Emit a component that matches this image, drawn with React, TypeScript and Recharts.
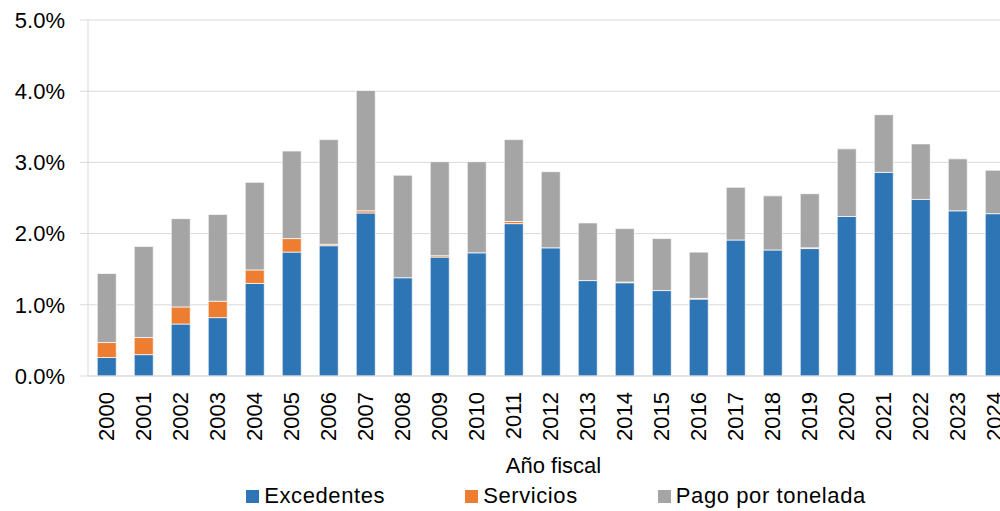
import React from 'react';
import { BarChart, Bar, XAxis, YAxis, CartesianGrid, Legend } from 'recharts';

const years = [
  '2000', '2001', '2002', '2003', '2004', '2005', '2006', '2007', '2008', '2009', '2010', '2011', '2012',
  '2013', '2014', '2015', '2016', '2017', '2018', '2019', '2020', '2021', '2022', '2023', '2024',
];

// values in percent
const excedentes = [
  0.26, 0.3, 0.73, 0.82, 1.3, 1.74, 1.83, 2.29, 1.38, 1.67, 1.73, 2.14, 1.8,
  1.34, 1.31, 1.2, 1.08, 1.91, 1.77, 1.79, 2.24, 2.86, 2.48, 2.32, 2.28,
];
const servicios = [
  0.21, 0.24, 0.24, 0.23, 0.19, 0.19, 0.02, 0.03, 0, 0.02, 0, 0.03, 0,
  0, 0.01, 0, 0.01, 0, 0, 0.01, 0, 0, 0, 0, 0,
];
const pagoPorTonelada = [
  0.97, 1.28, 1.24, 1.22, 1.23, 1.23, 1.47, 1.69, 1.44, 1.32, 1.28, 1.15, 1.07,
  0.81, 0.75, 0.73, 0.65, 0.74, 0.76, 0.76, 0.95, 0.81, 0.78, 0.73, 0.61,
];

const yTicks = [0, 1, 2, 3, 4, 5];

const SERIES = [
  { key: 'excedentes', name: 'Excedentes', color: '#2E75B6' },
  { key: 'servicios', name: 'Servicios', color: '#ED7D31' },
  { key: 'pago', name: 'Pago por tonelada', color: '#A5A5A5' },
];

const data = years.map((year, i) => ({
  year,
  excedentes: excedentes[i],
  servicios: servicios[i],
  pago: pagoPorTonelada[i],
}));

const FONT = '"Liberation Sans", Arial, Helvetica, sans-serif';

const YearTick = (props: any) => {
  const { x, y, payload } = props;
  return (
    <text
      x={x}
      y={y}
      transform={`rotate(-90, ${x}, ${y})`}
      textAnchor="end"
      dy="0.36em"
      fontSize={22}
      fontFamily={FONT}
      fill="#000"
    >
      {payload.value}
    </text>
  );
};

const LegendContent = () => (
  <div
    style={{
      display: 'flex',
      justifyContent: 'center',
      gap: 80,
      paddingLeft: 99,
      height: 30,
      alignItems: 'center',
      fontFamily: FONT,
      fontSize: 22,
      letterSpacing: 0.6,
      color: '#000',
    }}
  >
    {SERIES.map((s) => (
      <div key={s.key} style={{ display: 'flex', alignItems: 'center', gap: 5 }}>
        <div style={{ width: 13, height: 13, backgroundColor: s.color }} />
        <span>{s.name}</span>
      </div>
    ))}
  </div>
);

const App: React.FC = () => {
  return (
    <div
      style={{
        position: 'absolute',
        left: 0,
        top: 0,
        width: 1000,
        height: 511,
        overflow: 'hidden',
        background: '#fff',
      }}
    >
      <BarChart
        width={1013}
        height={511}
        data={data}
        margin={{ top: 20, right: 0, bottom: 0, left: 0 }}
        barCategoryGap="25%"
      >
        <CartesianGrid vertical={false} stroke="#D9D9D9" />
        <XAxis
          dataKey="year"
          height={105}
          interval={0}
          axisLine={{ stroke: '#D9D9D9' }}
          tickLine={false}
          tickSize={6}
          tickMargin={10}
          tick={<YearTick />}
          label={{
            value: 'Año fiscal',
            position: 'insideBottom',
            offset: 8,
            dx: 3,
            fontSize: 22,
            fontFamily: FONT,
            fill: '#000',
          }}
        />
        <YAxis
          width={88}
          domain={[0, 5]}
          ticks={yTicks}
          interval={0}
          tickFormatter={(v: number) => `${v.toFixed(1)}%`}
          axisLine={{ stroke: '#D9D9D9' }}
          tickLine={{ stroke: '#D9D9D9' }}
          tickSize={8}
          tickMargin={15}
          tick={{ fontSize: 22, fontFamily: FONT, fill: '#000' }}
        />
        <Legend verticalAlign="bottom" content={<LegendContent />} />
        {SERIES.map((s) => (
          <Bar
            key={s.key}
            dataKey={s.key}
            name={s.name}
            stackId="a"
            fill={s.color}
            stroke="#fff"
            strokeWidth={0.7}
            isAnimationActive={false}
          />
        ))}
      </BarChart>
    </div>
  );
};

export default App;
